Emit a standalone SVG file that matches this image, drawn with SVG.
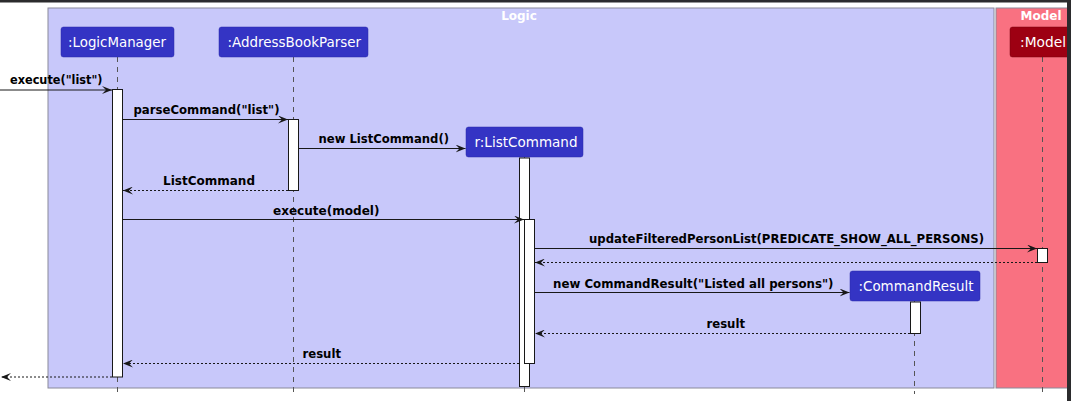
<svg xmlns="http://www.w3.org/2000/svg" width="1071" height="401" viewBox="0 0 1071 401">
<style>
.msg{font-family:"DejaVu Sans",Verdana,sans-serif;font-weight:bold;font-size:12px;fill:#000}
.ptxt{font-family:"DejaVu Sans",Verdana,sans-serif;font-size:13.5px;fill:#fff}
.btxt{font-family:"DejaVu Sans",Verdana,sans-serif;font-weight:bold;font-size:12px;fill:#fff}
.life{stroke:#555;stroke-width:1;stroke-dasharray:5,5;fill:none}
.act{fill:#fff;stroke:#181818;stroke-width:1}
.sync{stroke:#181818;stroke-width:1;fill:none;marker-end:url(#ah)}
.ret{stroke:#181818;stroke-width:1;stroke-dasharray:2,2;fill:none;marker-end:url(#ah)}
.pblue{fill:#3434C4;stroke:#2a2aa8;stroke-width:0.5}
.pred{fill:#9D0012;stroke:#7a000e;stroke-width:0.5}
</style>
<defs>
<marker id="ah" markerUnits="userSpaceOnUse" viewBox="0 0 10 8" refX="10" refY="4" markerWidth="10" markerHeight="8" orient="auto">
<path d="M0,0 L10,4 L0,8 L4,4 Z" fill="#181818"/>
</marker>
</defs>
<rect x="0" y="0" width="1071" height="401" fill="#fff"/>
<g id="frames">
<rect x="48" y="8" width="946" height="380" fill="#C8C8FA" stroke="#8a8a9a" stroke-width="1"/>
<text class="btxt" x="519" y="20" text-anchor="middle">Logic</text>
<rect x="996" y="8" width="90" height="380" fill="#F97181" stroke="#8a8a9a" stroke-width="1"/>
<text class="btxt" x="1041" y="20" text-anchor="middle">Model</text>
</g>
<g id="lifelines">
<line class="life" x1="117.5" y1="57" x2="117.5" y2="394"/>
<line class="life" x1="293.5" y1="57" x2="293.5" y2="394"/>
<line class="life" x1="524.5" y1="157" x2="524.5" y2="394"/>
<line class="life" x1="914.5" y1="301" x2="914.5" y2="394"/>
<line class="life" x1="1042.5" y1="57" x2="1042.5" y2="394"/>
</g>
<g id="LogicManager">
<rect class="pblue" x="61" y="27" width="113" height="30" rx="2.5"/>
<text class="ptxt" x="68" y="47" textLength="98" lengthAdjust="spacingAndGlyphs">:LogicManager</text>
<rect class="act" x="112.5" y="89.5" width="10" height="287.5"/>
</g>
<g id="AddressBookParser">
<rect class="pblue" x="219" y="27" width="149" height="30" rx="2.5"/>
<text class="ptxt" x="227.5" y="47" textLength="133.5" lengthAdjust="spacingAndGlyphs">:AddressBookParser</text>
<rect class="act" x="288.5" y="119.5" width="10" height="71"/>
</g>
<g id="ListCommand">
<rect class="pblue" x="466" y="127" width="117" height="30" rx="2.5"/>
<text class="ptxt" x="474.5" y="147" textLength="103" lengthAdjust="spacingAndGlyphs">r:ListCommand</text>
<rect class="act" x="519.5" y="158" width="10" height="228.5"/>
<rect class="act" x="524.5" y="219.5" width="10" height="144"/>
</g>
<g id="CommandResult">
<rect class="pblue" x="850" y="271" width="130" height="30" rx="2.5"/>
<text class="ptxt" x="858.5" y="291" textLength="115" lengthAdjust="spacingAndGlyphs">:CommandResult</text>
<rect class="act" x="910.5" y="302" width="10" height="31.5"/>
</g>
<g id="Model">
<rect class="pred" x="1010" y="27" width="65" height="30" rx="2.5"/>
<text class="ptxt" x="1020" y="47" textLength="46" lengthAdjust="spacingAndGlyphs">:Model</text>
<rect class="act" x="1037.5" y="248.5" width="10" height="14"/>
</g>
<g id="connectors">
<line class="sync" x1="0" y1="90" x2="112" y2="90"/>
<text class="msg" x="10" y="84" textLength="92.5" lengthAdjust="spacingAndGlyphs">execute("list")</text>
<line class="sync" x1="123" y1="119.5" x2="288" y2="119.5"/>
<text class="msg" x="133.5" y="114" textLength="146" lengthAdjust="spacingAndGlyphs">parseCommand("list")</text>
<line class="sync" x1="299" y1="148.5" x2="465.5" y2="148.5"/>
<text class="msg" x="318.5" y="143" textLength="130.5" lengthAdjust="spacingAndGlyphs">new ListCommand()</text>
<line class="ret" x1="288" y1="190.5" x2="123" y2="190.5"/>
<text class="msg" x="163" y="185" textLength="92" lengthAdjust="spacingAndGlyphs">ListCommand</text>
<line class="sync" x1="123" y1="219.5" x2="524" y2="219.5"/>
<text class="msg" x="273" y="214.5" textLength="106.5" lengthAdjust="spacingAndGlyphs">execute(model)</text>
<line class="sync" x1="535" y1="248.5" x2="1037" y2="248.5"/>
<text class="msg" x="589" y="243" textLength="395" lengthAdjust="spacingAndGlyphs">updateFilteredPersonList(PREDICATE_SHOW_ALL_PERSONS)</text>
<line class="ret" x1="1037" y1="262.5" x2="535" y2="262.5"/>
<line class="sync" x1="535" y1="292.5" x2="849.5" y2="292.5"/>
<text class="msg" x="553" y="287.5" textLength="280.5" lengthAdjust="spacingAndGlyphs">new CommandResult("Listed all persons")</text>
<line class="ret" x1="910" y1="333.5" x2="535" y2="333.5"/>
<text class="msg" x="706.5" y="328" textLength="38.5" lengthAdjust="spacingAndGlyphs">result</text>
<line class="ret" x1="519" y1="363.5" x2="123" y2="363.5"/>
<text class="msg" x="302.5" y="357.5" textLength="38.5" lengthAdjust="spacingAndGlyphs">result</text>
<line class="ret" x1="112" y1="377" x2="1" y2="377"/>
</g>
<rect x="0" y="0" width="1071" height="2.5" fill="#2b2b2d"/>
<rect x="1067" y="0" width="4" height="401" fill="#2b2b2d"/>
</svg>
